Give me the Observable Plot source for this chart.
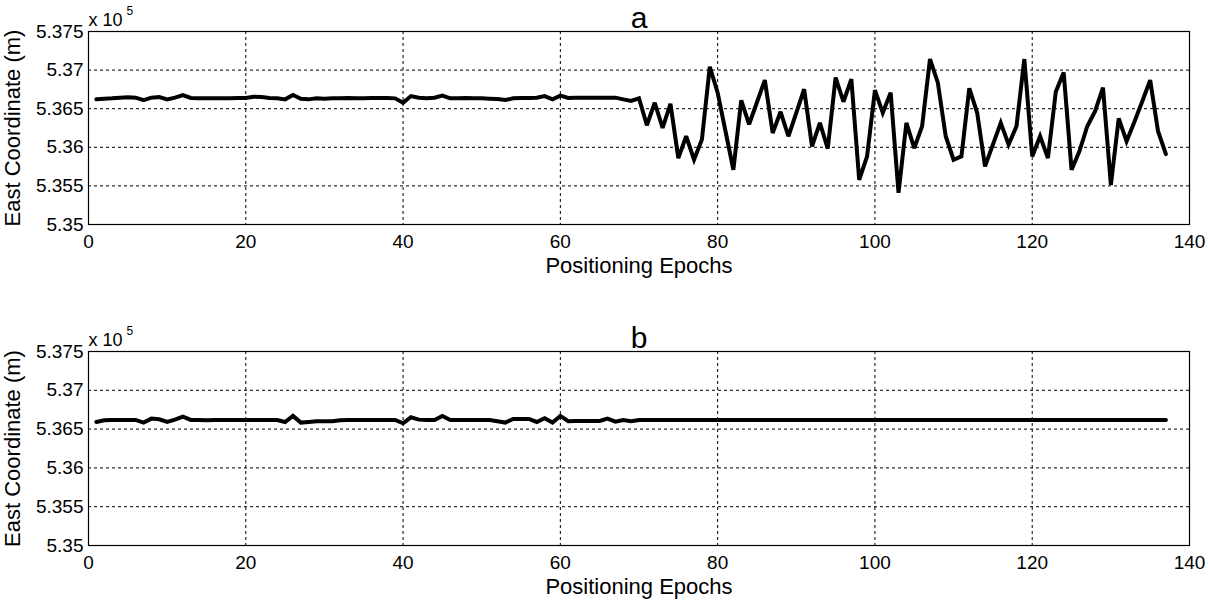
<!DOCTYPE html>
<html><head><meta charset="utf-8">
<script src="https://cdn.jsdelivr.net/npm/d3@7"></script>
<script src="https://cdn.jsdelivr.net/npm/@observablehq/plot@0.6"></script>
<style>
body{margin:0;background:#fff;}
#chart{width:1208px;height:601px;}
#chart svg{display:block;}
</style></head><body><div id="chart"></div>
<script>
// Positioning epoch index (1..137)
const epochs = Array.from({length: 137}, (_, i) => i + 1);

// Panel a: East coordinate (m)
const eastA = [
  536621, 536629, 536634, 536643, 536647, 536643, 536612, 536643, 536651, 536621,
  536643, 536677, 536639, 536634, 536634, 536634, 536634, 536634, 536638, 536639,
  536656, 536652, 536639, 536634, 536621, 536677, 536629, 536621, 536634, 536630,
  536634, 536634, 536638, 536634, 536634, 536638, 536638, 536638, 536634, 536577,
  536664, 536643, 536634, 536643, 536669, 536634, 536634, 536638, 536634, 536634,
  536630, 536625, 536612, 536634, 536639, 536639, 536643, 536664, 536621, 536669,
  536639, 536643, 536643, 536643, 536643, 536643, 536643, 536621, 536600, 536635,
  536286, 536577, 536251, 536564, 535860, 536143, 535839, 536100, 537043, 536708,
  536208, 535709, 536609, 536296, 536583, 536870, 536186, 536460, 536143, 536447,
  536752, 536012, 536316, 535983, 536903, 536590, 536883, 535578, 535882, 536739,
  536447, 536708, 535410, 536316, 535990, 536273, 537143, 536838, 536143, 535839,
  535882, 536765, 536447, 535752, 536035, 536316, 536035, 536273, 537143, 535882,
  536143, 535860, 536721, 536969, 535709, 535947, 536273, 536469, 536773, 535513,
  536374, 536078, 536330, 536596, 536870, 536208, 535912
];

// Panel b: East coordinate (m)
const eastB = [
  536592, 536613, 536618, 536618, 536618, 536618, 536584, 536635, 536627, 536592,
  536622, 536661, 536618, 536618, 536614, 536618, 536618, 536618, 536618, 536618,
  536618, 536618, 536618, 536618, 536592, 536670, 536584, 536592, 536601, 536601,
  536601, 536614, 536618, 536618, 536618, 536618, 536618, 536618, 536618, 536575,
  536652, 536622, 536618, 536618, 536670, 536618, 536618, 536618, 536618, 536618,
  536618, 536601, 536584, 536631, 536631, 536631, 536592, 536640, 536584, 536670,
  536601, 536605, 536605, 536605, 536605, 536635, 536596, 536618, 536601, 536618,
  536618, 536618, 536618, 536618, 536618, 536618, 536618, 536618, 536618, 536618,
  536618, 536618, 536618, 536618, 536618, 536618, 536618, 536618, 536618, 536618,
  536618, 536618, 536618, 536618, 536618, 536618, 536618, 536618, 536618, 536618,
  536618, 536618, 536618, 536618, 536618, 536618, 536618, 536618, 536618, 536618,
  536618, 536618, 536618, 536618, 536618, 536618, 536618, 536618, 536618, 536618,
  536618, 536618, 536618, 536618, 536618, 536618, 536618, 536618, 536618, 536618,
  536618, 536618, 536618, 536618, 536618, 536618, 536618
];

const xTicks = [0, 20, 40, 60, 80, 100, 120, 140];
const yTicks = [535000, 535500, 536000, 536500, 537000, 537500];
const titles = ["a", "b"];
const xLabel = "Positioning Epochs";
const yLabel = "East Coordinate (m)";
const expBase = "x 10";
const expPow = "5";

const FONT = "'Liberation Sans', Arial, Helvetica, sans-serif";

function panel(values, title, height, mt, mb) {
  const data = epochs.map((e, i) => ({epoch: e, east: values[i]}));
  return Plot.plot({
    width: 1208, height,
    marginLeft: 88, marginRight: 19, marginTop: mt, marginBottom: mb,
    style: {fontFamily: FONT, fontSize: "18px", color: "#000", background: "#fff"},
    x: {domain: [0, 140]},
    y: {domain: [535000, 537500]},
    marks: [
      Plot.gridX(xTicks, {stroke: "#000", strokeOpacity: 1, strokeWidth: 1, strokeDasharray: "3,3"}),
      Plot.gridY(yTicks, {stroke: "#000", strokeOpacity: 1, strokeWidth: 1, strokeDasharray: "3,3"}),
      Plot.axisX(xTicks, {tickSize: 0, tickPadding: 10, fontSize: 19, label: null}),
      Plot.axisY(yTicks, {tickSize: 0, tickPadding: 5, fontSize: 19, label: null,
        tickFormat: d => String(+(d / 1e5).toFixed(3))}),
      Plot.line(data, {x: "epoch", y: "east", stroke: "#000", strokeWidth: 4,
        strokeLinejoin: "miter", strokeMiterlimit: 3}),
      Plot.frame({stroke: "#000", strokeWidth: 1.2}),
      Plot.text([title], {frameAnchor: "top", lineAnchor: "bottom", dy: -4, fontSize: 30, text: d => d}),
      Plot.text([expBase], {frameAnchor: "top-left", lineAnchor: "bottom", dy: -6, dx: 0, textAnchor: "start", fontSize: 18, text: d => d}),
      Plot.text([expPow], {frameAnchor: "top-left", lineAnchor: "bottom", dy: -17, dx: 38, textAnchor: "start", fontSize: 12, text: d => d}),
      Plot.text([yLabel], {frameAnchor: "left", textAnchor: "middle", dx: -76, rotate: -90, fontSize: 22, text: d => d}),
      Plot.text([xLabel], {frameAnchor: "bottom", lineAnchor: "bottom", dy: 48, fontSize: 22, text: d => d})
    ]
  });
}

const root = document.getElementById("chart");
root.appendChild(panel(eastA, titles[0], 300, 31, 76));
root.appendChild(panel(eastB, titles[1], 301, 51, 56));
</script>
</body></html>
